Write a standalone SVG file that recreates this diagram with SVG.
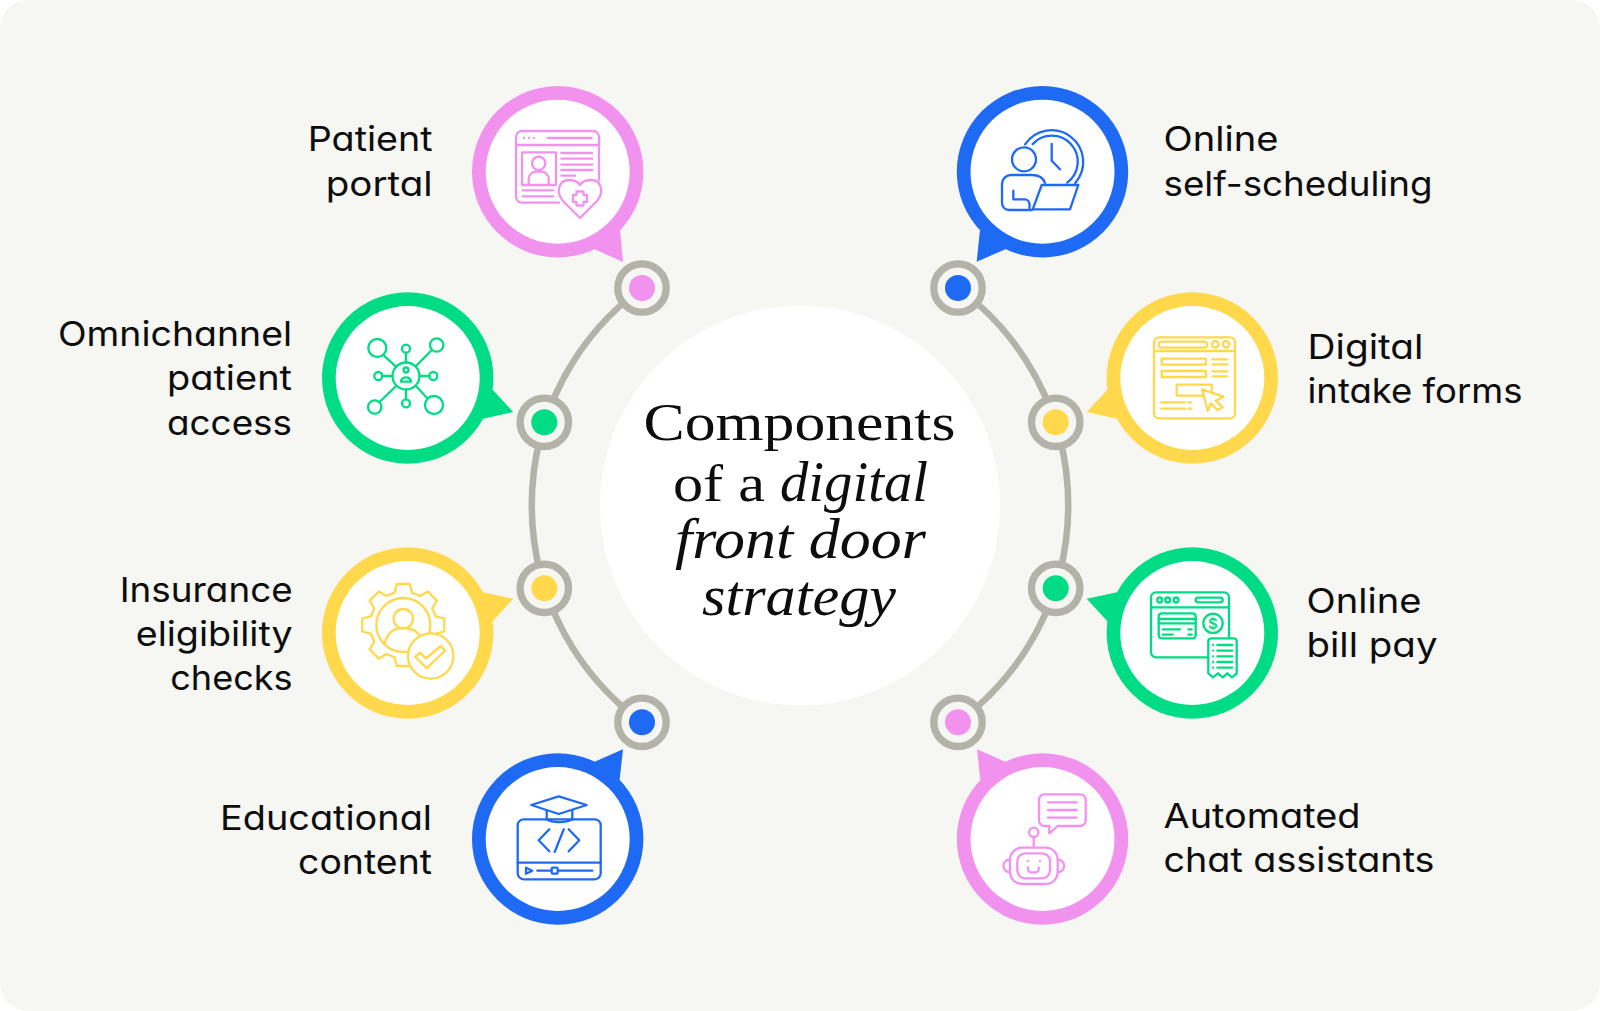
<svg xmlns="http://www.w3.org/2000/svg" width="1600" height="1011" viewBox="0 0 1600 1011">
<style>
.lb{font-family:Inter,"Noto Sans",sans-serif;font-size:34px;fill:#0d0d0d;font-feature-settings:"cv11" 1;}
.e{text-anchor:end}
.ser{font-family:"Liberation Serif",serif;font-size:53px;fill:#0d0d0d}
.hw{font-family:"Liberation Serif",serif;font-style:italic;font-size:58px;fill:#0d0d0d}
.ic{fill:none;stroke-width:2.3;stroke-linecap:round;stroke-linejoin:round}
.w{fill:#fff}
.pk{fill:#f292ef}.bl{fill:#1f6af4}.gn{fill:#00dc85}.yl{fill:#ffd84c}
.spk{stroke:#f292ef}.sbl{stroke:#1f6af4}.sgn{stroke:#00dc85}.syl{stroke:#ffd84c}
.ring{fill:#f6f6f2;stroke:#b3b3aa;stroke-width:7.3}
.arc{fill:none;stroke:#b3b3aa;stroke-width:6.5}
</style>
<rect width="1600" height="1011" fill="#fff"/>
<rect id="background" width="1600" height="1011" rx="28" fill="#f6f6f2"/>
<g id="connectors">
<path class="arc" d="M642,288 A269,269 0 0 0 642,722.3"/>
<path class="arc" d="M958,288 A269,269 0 0 1 958,722.3"/>
</g>
<g id="center">
<circle cx="800" cy="505.5" r="200" fill="#fff"/>
<text class="ser" x="643.5" y="440" textLength="312" lengthAdjust="spacingAndGlyphs">Components</text>
<text class="ser" x="673" y="500.5" textLength="92" lengthAdjust="spacingAndGlyphs">of a</text>
<text class="hw" x="780" y="501" textLength="148" lengthAdjust="spacingAndGlyphs">digital</text>
<text class="hw" x="675" y="558" textLength="251" lengthAdjust="spacingAndGlyphs">front door</text>
<text class="hw" x="702" y="615" textLength="194" lengthAdjust="spacingAndGlyphs">strategy</text>
</g>

<g id="dots">
<g id="dot-patient-portal"><circle class="ring" cx="642" cy="288" r="24.2"/><circle class="pk" cx="642" cy="288" r="13"/></g>
<g id="dot-self-scheduling"><circle class="ring" cx="958" cy="288" r="24.2"/><circle class="bl" cx="958" cy="288" r="13"/></g>
<g id="dot-omnichannel"><circle class="ring" cx="544.3" cy="422.3" r="24.2"/><circle class="gn" cx="544.3" cy="422.3" r="13"/></g>
<g id="dot-intake"><circle class="ring" cx="1055.7" cy="422.3" r="24.2"/><circle class="yl" cx="1055.7" cy="422.3" r="13"/></g>
<g id="dot-insurance"><circle class="ring" cx="544.3" cy="588.3" r="24.2"/><circle class="yl" cx="544.3" cy="588.3" r="13"/></g>
<g id="dot-bill-pay"><circle class="ring" cx="1055.7" cy="588.3" r="24.2"/><circle class="gn" cx="1055.7" cy="588.3" r="13"/></g>
<g id="dot-educational"><circle class="ring" cx="642" cy="722.3" r="24.2"/><circle class="bl" cx="642" cy="722.3" r="13"/></g>
<g id="dot-chat"><circle class="ring" cx="958" cy="722.3" r="24.2"/><circle class="pk" cx="958" cy="722.3" r="13"/></g>
</g>

<g id="patient-portal">
<polygon class="pk" points="623,262 594,249 620,230"/>
<circle class="pk" cx="557.7" cy="171.7" r="85.7"/><circle class="w" cx="557.7" cy="171.7" r="72"/>
<g class="ic spk">
<path d="M559,202.7H522a6,6 0 0 1-6-6V137a6,6 0 0 1 6-6H593a6,6 0 0 1 6,6V180M516,145H599M547.7,138H591.7M524,138h.1M529,138h.1M534,138h.1"/>
<rect x="522" y="152.3" width="34" height="32.7"/>
<circle cx="538.7" cy="163.3" r="6.7"/>
<path d="M528.7,185V179a7.5,7.5 0 0 1 7.5-7.5h5a7.5,7.5 0 0 1 7.5,7.5v6"/>
<path d="M561.3,153H592.3M561.3,158.7H592.3M561.3,164.7H592.3M561.3,170H592.3M561.3,175.7H575M522.7,190.3H553.3M522.7,196.3H553.3"/>
<path d="M580,218L563,201C556,193 558,180 569,180C574,180 578,182 580,185C582,182 586,180 591,180C602,180 604,193 597,201Z"/>
<path d="M576.5,191.5h7v3.5h3.5v7h-3.5v3.5h-7v-3.5h-3.5v-7h3.5z"/>
</g>
<text class="lb e" x="432.7" y="151.3" textLength="125" lengthAdjust="spacingAndGlyphs">Patient</text>
<text class="lb e" x="432.7" y="195.7" textLength="107" lengthAdjust="spacingAndGlyphs">portal</text>
</g>

<g id="online-self-scheduling">
<polygon class="bl" points="976.7,261.7 1006,249 980,230"/>
<circle class="bl" cx="1042.5" cy="171.7" r="85.7"/><circle class="w" cx="1042.5" cy="171.7" r="72"/>
<g class="ic sbl">
<circle cx="1024" cy="159.3" r="12"/>
<path d="M1025.1,144.4A31.7,31.7 0 1 1 1075.2,183M1032.6,144.1A26,26 0 1 1 1067.2,182.6M1051.7,144V160.7L1060,169.3"/>
<path d="M1041.7,185H1078.3L1070,209.3H1032.7Z"/>
<path d="M1045,183C1043,177 1038,175 1032,175H1011a9,9 0 0 0-9,9V203a7,7 0 0 0 7,7H1032M1013.3,190.7V199.3H1025a5,5 0 0 1 4.5,5V209"/>
</g>
<text class="lb" x="1163.5" y="151.3" textLength="115" lengthAdjust="spacingAndGlyphs">Online</text>
<text class="lb" x="1163.5" y="195.7" textLength="269" lengthAdjust="spacingAndGlyphs">self-scheduling</text>
</g>

<g id="omnichannel-patient-access">
<polygon class="gn" points="513.3,412 492,389 482,419"/>
<circle class="gn" cx="407.7" cy="378" r="85.7"/><circle class="w" cx="407.7" cy="378" r="72"/>
<g class="ic sgn">
<circle cx="406" cy="376" r="13.5"/><circle cx="406" cy="370" r="2.5"/>
<path d="M400.7,381.7a5.5,6 0 0 1 10.6,0Z"/>
<circle cx="377.3" cy="348" r="9"/><circle cx="436.7" cy="345" r="6.7"/><circle cx="374.7" cy="407" r="6.7"/><circle cx="434" cy="405" r="9"/>
<circle cx="406" cy="348.7" r="4"/><circle cx="406" cy="403.3" r="4"/><circle cx="378.3" cy="376" r="4"/><circle cx="433.3" cy="376" r="4"/>
<path d="M383.7,355.3L396,366.7M431,350.7L416,366M379.3,402.3L396,386M427.3,398.3L416,386M406,352.7V362.5M406,389.5V399.3M382.3,376H392.5M419.5,376H429.3"/>
</g>
<text class="lb e" x="292" y="346" textLength="234" lengthAdjust="spacingAndGlyphs">Omnichannel</text>
<text class="lb e" x="292" y="390.3" textLength="125" lengthAdjust="spacingAndGlyphs">patient</text>
<text class="lb e" x="292" y="434.6" textLength="125" lengthAdjust="spacingAndGlyphs">access</text>
</g>

<g id="digital-intake-forms">
<polygon class="yl" points="1086.7,412 1108,389 1118,419"/>
<circle class="yl" cx="1192.3" cy="378" r="85.7"/><circle class="w" cx="1192.3" cy="378" r="72"/>
<g class="ic syl">
<rect x="1154" y="337.3" width="81" height="81" rx="5"/>
<path d="M1154,351H1235"/>
<rect x="1158.7" y="341.7" width="48.6" height="6" rx="3"/>
<circle cx="1215.3" cy="344.3" r="3.3"/><circle cx="1226" cy="344.3" r="3.3"/>
<rect x="1161.7" y="358.7" width="44.3" height="6"/><rect x="1161.7" y="371" width="44.3" height="6"/>
<path d="M1212.3,359.3H1227.3M1212.3,364.3H1227.3M1212.3,371.3H1227.3M1212.3,376.3H1227.3"/>
<path d="M1204,395.7H1176.7V384.7H1211.7V392"/>
<path d="M1202,389.3L1223.3,396.7L1215.7,400.7L1222.7,407.3L1217.3,410L1211,403.3L1207.7,410.7Z"/>
<path d="M1161.3,402.3H1185M1188.3,402.3H1191.3M1161.3,408.7H1185M1188.3,408.7H1191.3"/>
</g>
<text class="lb" x="1307.5" y="359.3" textLength="116" lengthAdjust="spacingAndGlyphs">Digital</text>
<text class="lb" x="1307.5" y="403.3" textLength="215" lengthAdjust="spacingAndGlyphs">intake forms</text>
</g>

<g id="insurance-eligibility-checks">
<polygon class="yl" points="513.3,598.7 492,622 482,592"/>
<circle class="yl" cx="407.7" cy="633" r="85.7"/><circle class="w" cx="407.7" cy="633" r="72"/>
<g class="ic syl">
<path transform="translate(403.3,625)" d="M32.4,-8.7L41,-6.5L41,6.5L32.4,8.7L29,16.75L33.6,24.4L24.4,33.6L16.75,29L8.7,32.4L6.5,41L-6.5,41L-8.7,32.4L-16.75,29L-24.4,33.6L-33.6,24.4L-29,16.75L-32.4,8.7L-41,6.5L-41,-6.5L-32.4,-8.7L-29,-16.75L-33.6,-24.4L-24.4,-33.6L-16.75,-29L-8.7,-32.4L-6.5,-41L6.5,-41L8.7,-32.4L16.75,-29L24.4,-33.6L33.6,-24.4L29,-16.75Z"/>
<circle cx="403.3" cy="625" r="27"/>
<circle cx="403.3" cy="618.7" r="9.7"/>
<path d="M385,643C387,633 394,628 403,628C412,628 419,632 421,640"/>
<circle class="w" cx="430.7" cy="656" r="22.7"/>
<path d="M415.3,656.7L420,652.7L426,658.3L440.7,646L445,650.7L426.7,668.3Z"/>
</g>
<text class="lb e" x="292.7" y="601.7" textLength="173" lengthAdjust="spacingAndGlyphs">Insurance</text>
<text class="lb e" x="292.7" y="646" textLength="157" lengthAdjust="spacingAndGlyphs">eligibility</text>
<text class="lb e" x="292.7" y="690" textLength="122.5" lengthAdjust="spacingAndGlyphs">checks</text>
</g>

<g id="online-bill-pay">
<polygon class="gn" points="1086.7,598.7 1108,622 1118,592"/>
<circle class="gn" cx="1192.3" cy="633" r="85.7"/><circle class="w" cx="1192.3" cy="633" r="72"/>
<g class="ic sgn">
<path d="M1208.3,657.3H1156a5,5 0 0 1-5-5V597.3a5,5 0 0 1 5-5H1224a5,5 0 0 1 5,5V638.3M1151,607.3H1229"/>
<circle cx="1159.7" cy="600" r="2.5"/><circle cx="1167.7" cy="600" r="2.5"/><circle cx="1176" cy="600" r="2.5"/>
<rect x="1195.7" y="597.7" width="27" height="4.6" rx="2.3"/>
<rect x="1158.7" y="613.3" width="37" height="25" rx="3"/>
<path d="M1158.7,619H1195.7M1158.7,623.3H1195.7M1162.7,629.3H1180M1162.7,634.7H1172.7M1188.3,629.3H1191.7M1188.3,634.7H1191.7"/>
<circle cx="1213" cy="623.3" r="9.7"/>
<path d="M1208.3,673.3V641.3a3,3 0 0 1 3-3H1233.7a3,3 0 0 1 3,3V673.3L1232,677.3L1227.3,673.3L1222.7,677.3L1218,673.3L1213,677.3Z"/>
<path d="M1213,645h.1M1213,650.7h.1M1213,656.3h.1M1213,662h.1M1213,667.7h.1M1217.3,645H1232.3M1217.3,650.7H1232.3M1217.3,656.3H1232.3M1217.3,662H1232.3M1217.3,667.7H1232.3"/>
</g>
<text x="1213" y="628.5" text-anchor="middle" font-family="Inter,sans-serif" font-size="15" font-weight="600" fill="#00dc85">$</text>
<text class="lb" x="1306.5" y="613" textLength="115" lengthAdjust="spacingAndGlyphs">Online</text>
<text class="lb" x="1306.5" y="657.3" textLength="131" lengthAdjust="spacingAndGlyphs">bill pay</text>
</g>

<g id="educational-content">
<polygon class="bl" points="623,749.3 594,762 619.5,781"/>
<circle class="bl" cx="557.7" cy="839" r="85.7"/><circle class="w" cx="557.7" cy="839" r="72"/>
<g class="ic sbl">
<path d="M558.7,796.3L586.7,805L558.7,814L531.3,805Z"/>
<path d="M546.7,810.5V819.5M572.3,810.5V819.5"/>
<rect x="517.7" y="819.3" width="83" height="60" rx="6"/>
<path d="M546.7,819.3C552,823 566,823 572.3,819.3M517.7,862.7H600.7"/>
<path d="M549.3,829.3L538.7,840.3L549.3,851.3M568.7,829.3L579.3,840.3L568.7,851.3M563.7,829.3L554.7,852"/>
<path d="M526,867.7L532.3,870.7L526,873.7Z"/>
<path d="M537.3,870.7H592.3"/>
<rect class="w" x="551.7" y="867.7" width="6" height="6" rx="1"/>
</g>
<text class="lb e" x="432" y="829.8" textLength="212" lengthAdjust="spacingAndGlyphs">Educational</text>
<text class="lb e" x="432" y="874.2" textLength="134" lengthAdjust="spacingAndGlyphs">content</text>
</g>

<g id="automated-chat-assistants">
<polygon class="pk" points="977,749.3 1006,762 980.5,781"/>
<circle class="pk" cx="1042.5" cy="839" r="85.7"/><circle class="w" cx="1042.5" cy="839" r="72"/>
<g class="ic spk">
<path d="M1044.5,794.3H1080.2a5.5,5.5 0 0 1 5.5,5.5V820.5a5.5,5.5 0 0 1-5.5,5.5H1057.7L1049.3,833.3V826H1044.5a5.5,5.5 0 0 1-5.5-5.5V799.8a5.5,5.5 0 0 1 5.5-5.5Z"/>
<path d="M1048,802.3H1076.7M1048,810H1076.7M1048,817.7H1076.7"/>
<circle cx="1033.7" cy="832.3" r="4.7"/><path d="M1033.7,837V847.7"/>
<rect x="1010" y="847.7" width="47.7" height="36.3" rx="12"/>
<rect x="1017.3" y="853.3" width="32.7" height="25" rx="8"/>
<path d="M1010,859.3a6.5,6.5 0 0 0 0,13M1057.7,859.3a6.5,6.5 0 0 1 0,13"/>
<path d="M1027.7,861h.1M1040,861h.1M1028,867.3v2a3,3 0 0 0 3,3h4.7a3,3 0 0 0 3-3v-2"/>
</g>
<text class="lb" x="1163.5" y="827.5" textLength="197" lengthAdjust="spacingAndGlyphs">Automated</text>
<text class="lb" x="1163.5" y="871.8" textLength="271" lengthAdjust="spacingAndGlyphs">chat assistants</text>
</g>
</svg>
